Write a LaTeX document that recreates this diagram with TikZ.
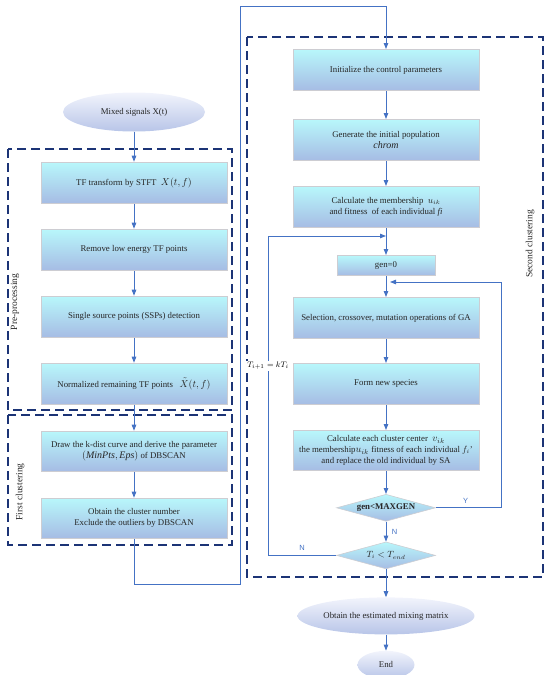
\documentclass[tikz,border=0pt]{standalone}
\usepackage{fontspec}
\setmainfont{Liberation Serif}
\newfontfamily\ynfont{Liberation Sans}
\usetikzlibrary{arrows.meta, positioning, shapes.geometric}

\definecolor{boxtop}{RGB}{184,247,251}
\definecolor{boxbot}{RGB}{166,188,228}
\definecolor{boxline}{RGB}{205,205,210}
\definecolor{elltop}{RGB}{242,244,252}
\definecolor{ellbot}{RGB}{184,197,232}
\definecolor{linkblue}{RGB}{68,114,196}
\definecolor{framenavy}{RGB}{28,52,118}

\begin{document}
\begin{tikzpicture}[
    x=1pt, y=1pt,
    node distance=25pt,
    flowbox/.style={
        rectangle,
        draw=boxline,
        line width=1pt,
        top color=boxtop,
        bottom color=boxbot,
        align=center,
        minimum width=186pt,
        minimum height=41pt,
        inner sep=2pt,
        font=\fontsize{8.8}{11}\selectfont,
        text=black!85
    },
    smallbox/.style={
        flowbox,
        minimum width=98pt,
        minimum height=20pt
    },
    decision/.style={
        diamond,
        aspect=3.6,
        draw=boxline,
        line width=0.6pt,
        top color=boxtop,
        bottom color=boxbot,
        minimum width=99pt,
        minimum height=27pt,
        inner sep=0pt,
        font=\fontsize{8.8}{10}\selectfont\bfseries,
        text=black!85
    },
    terminal/.style={
        ellipse,
        top color=elltop,
        bottom color=ellbot,
        align=center,
        inner sep=0pt,
        font=\fontsize{8.8}{10}\selectfont,
        text=black!85
    },
    frame/.style={
        draw=framenavy,
        line width=1.1pt,
        dash pattern=on 9pt off 5pt
    },
    framelabel/.style={
        rotate=90,
        font=\fontsize{9.5}{10}\selectfont,
        text=black!85
    },
    arrow/.style={
        -{Triangle[length=6pt,width=4.5pt]},
        line width=0.9pt,
        draw=linkblue
    },
    yn/.style={
        font=\ynfont\fontsize{7.5}{9}\selectfont,
        text=linkblue
    }
]
\useasboundingbox (0,0) rectangle (550,-675);

% Group frames
\draw[frame] (8,-149) rectangle (232,-410);
\draw[frame] (8,-415) rectangle (232,-545);
\draw[frame] (247,-37) rectangle (543,-577);
\node[framelabel] (prelabel) at (15,-302) {Pre-processing};
\node[framelabel] (firstlabel) at (20,-492) {First clustering};
\node[framelabel] (secondlabel) at (530,-244) {Second clustering};

% Left column
\node[terminal, minimum width=142pt, minimum height=39pt] (mixed) at (134,-112) {Mixed signals X(t)};
\node[flowbox, below=30pt of mixed] (stft) {TF transform by STFT\ \ {\fontsize{10}{10}\selectfont$X(t,f)$}};
\node[flowbox, below=of stft] (remove) {Remove low energy TF points};
\node[flowbox, below=of remove] (ssp) {Single source points (SSPs) detection};
\node[flowbox, below=of ssp] (normal) {Normalized remaining TF points\ \ \ {\fontsize{10}{10}\selectfont$\tilde{X}(t,f)$}};
\node[flowbox, minimum height=40pt, below=26pt of normal] (kdist) {Draw the k-dist curve and derive the parameter\\{\fontsize{10}{11}\selectfont$(\mathit{MinPts},\mathit{Eps})$} of DBSCAN};
\node[flowbox, minimum height=40pt, below=26pt of kdist] (number) {Obtain the cluster number\\Exclude the outliers by DBSCAN};

% Right column
\node[flowbox] (init) at (386,-70) {Initialize the control parameters};
\node[flowbox, below=28pt of init] (popul) {Generate the initial population\\{\fontsize{10}{11}\selectfont\itshape chrom}};
\node[flowbox, below=of popul] (member) {Calculate the membership\ \ $u_{ik}$\\and fitness\ \ of each individual \textit{fi}};
\node[smallbox, below=27pt of member] (gen) {gen=0};
\node[flowbox, below=21pt of gen] (select) {Selection, crossover, mutation operations of GA};
\node[flowbox, below=24pt of select] (species) {Form new species};
\node[flowbox, minimum height=40pt, below=of species] (center) {Calculate each cluster center\ \ {\fontsize{10}{10}\selectfont$v_{ik}$}\\the membership{\fontsize{10}{10}\selectfont$u_{ik}$} fitness of each individual $f_i$'\\and replace the old individual by SA};
\node[decision, below=23pt of center] (maxgen) {gen<MAXGEN};
\node[decision, below=20pt of maxgen] (temp) {\fontsize{9}{10}\selectfont$T_i<T_{end}$};
\node[terminal, minimum width=143pt, minimum height=37pt, below=28pt of temp] (matrix) {Obtain the estimated mixing matrix};
\node[terminal, minimum width=57pt, minimum height=28pt, below=16pt of matrix] (finish) {End};

% Main arrows
\draw[arrow] (mixed) -- (stft);
\draw[arrow] (stft) -- (remove);
\draw[arrow] (remove) -- (ssp);
\draw[arrow] (ssp) -- (normal);
\draw[arrow] (normal) -- (kdist);
\draw[arrow] (kdist) -- (number);

\draw[arrow] (init) -- (popul);
\draw[arrow] (popul) -- (member);
\draw[arrow] (member) -- (gen);
\draw[arrow] (gen) -- (select);
\draw[arrow] (select) -- (species);
\draw[arrow] (species) -- (center);
\draw[arrow] (center) -- (maxgen);
\draw[arrow] (maxgen) -- node[yn, right=2pt] (nlabel) {N} (temp);
\draw[arrow] (temp) -- (matrix);
\draw[arrow] (matrix) -- (finish);

% Link between the two columns
\coordinate (bendlow) at (240,-584);
\coordinate (bendtop) at (240,-6);
\draw[arrow] (number.south) |- (bendlow) -- (bendtop) -| (init.north);

% Loops
\draw[arrow] (maxgen.east) -- ++(66,0) node[yn, pos=0.45, above=1pt] (ylabel) {Y}
    |- ([xshift=4pt,yshift=-6pt]gen.south);
\draw[arrow] (temp.west) -- ++(-68,0) node[yn, pos=0.5, above=1pt] (nlabel2) {N}
    |- ([yshift=-8pt]member.south);
\node[fill=white, inner sep=1pt, font=\fontsize{8.5}{10}\selectfont] (cooling) at (268,-366) {$T_{i+1}=kT_i$};

\end{tikzpicture}
\end{document}
